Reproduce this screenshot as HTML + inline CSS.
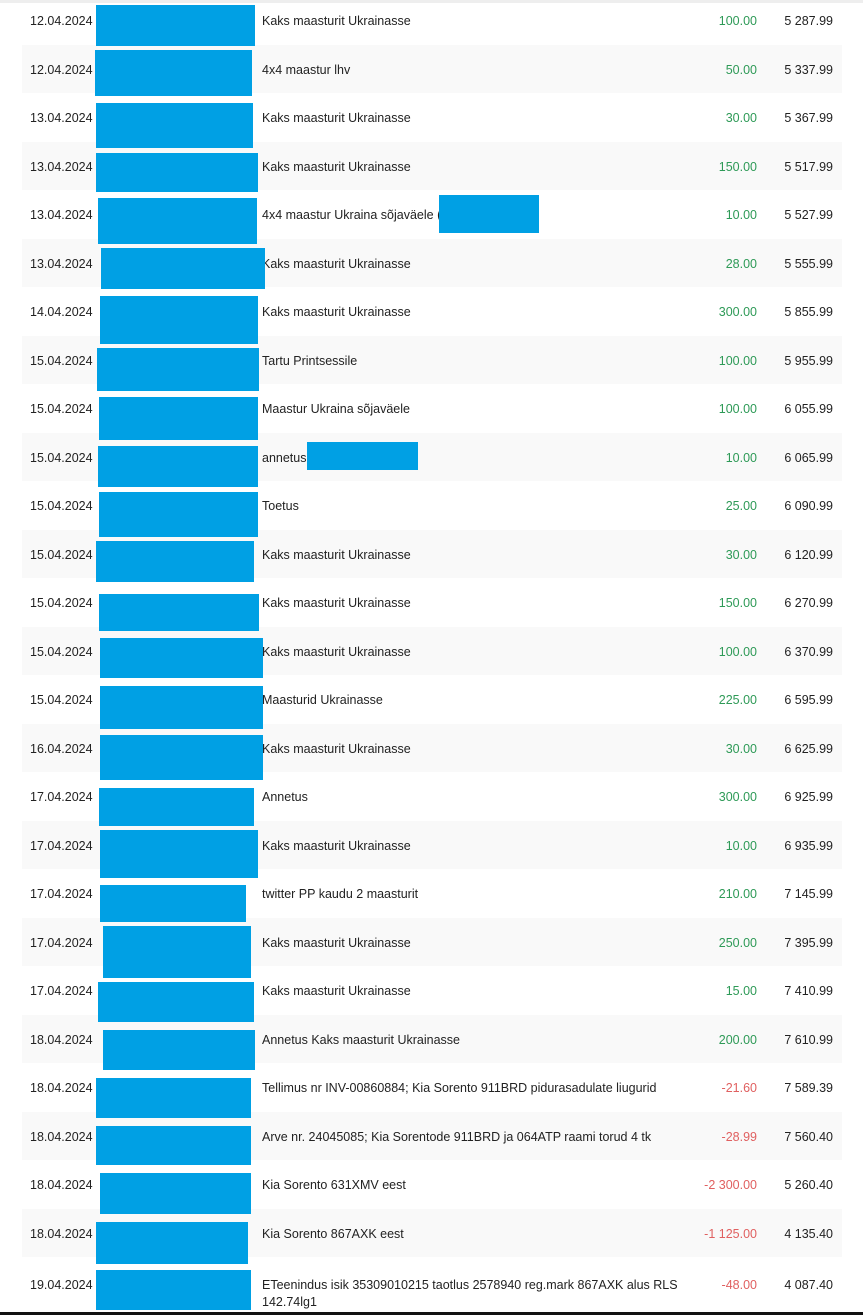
<!DOCTYPE html>
<html><head><meta charset="utf-8"><style>
body{margin:0;width:863px;height:1315px;background:#fff;position:relative;overflow:hidden;font-family:"Liberation Sans",sans-serif;font-size:12.5px;color:#222}
.row{position:absolute;left:22px;width:820px;height:48.5px}
.g{background:#f9f9f9}
.t{position:absolute;white-space:nowrap}
.d{left:8px}.x{left:240px}.a{right:85px;text-align:right}.b{right:9px;text-align:right}
.pos{color:#2e9a57}.neg{color:#e06060}
.blue{position:absolute;background:#00a0e4}
</style></head><body>
<div style="position:absolute;left:0;top:0;width:863px;height:3px;background:#eee"></div>
<div id="rows"></div>
<div style="position:absolute;left:0;top:1312px;width:863px;height:3px;background:#111"></div>
<script>
var R=[
["12.04.2024","Kaks maasturit Ukrainasse","100.00","5 287.99"],
["12.04.2024","4x4 maastur lhv","50.00","5 337.99"],
["13.04.2024","Kaks maasturit Ukrainasse","30.00","5 367.99"],
["13.04.2024","Kaks maasturit Ukrainasse","150.00","5 517.99"],
["13.04.2024","4x4 maastur Ukraina sõjaväele (","10.00","5 527.99"],
["13.04.2024","Kaks maasturit Ukrainasse","28.00","5 555.99"],
["14.04.2024","Kaks maasturit Ukrainasse","300.00","5 855.99"],
["15.04.2024","Tartu Printsessile","100.00","5 955.99"],
["15.04.2024","Maastur Ukraina sõjaväele","100.00","6 055.99"],
["15.04.2024","annetus","10.00","6 065.99"],
["15.04.2024","Toetus","25.00","6 090.99"],
["15.04.2024","Kaks maasturit Ukrainasse","30.00","6 120.99"],
["15.04.2024","Kaks maasturit Ukrainasse","150.00","6 270.99"],
["15.04.2024","Kaks maasturit Ukrainasse","100.00","6 370.99"],
["15.04.2024","Maasturid Ukrainasse","225.00","6 595.99"],
["16.04.2024","Kaks maasturit Ukrainasse","30.00","6 625.99"],
["17.04.2024","Annetus","300.00","6 925.99"],
["17.04.2024","Kaks maasturit Ukrainasse","10.00","6 935.99"],
["17.04.2024","twitter PP kaudu 2 maasturit","210.00","7 145.99"],
["17.04.2024","Kaks maasturit Ukrainasse","250.00","7 395.99"],
["17.04.2024","Kaks maasturit Ukrainasse","15.00","7 410.99"],
["18.04.2024","Annetus Kaks maasturit Ukrainasse","200.00","7 610.99"],
["18.04.2024","Tellimus nr INV-00860884; Kia Sorento 911BRD pidurasadulate liugurid","-21.60","7 589.39"],
["18.04.2024","Arve nr. 24045085; Kia Sorentode 911BRD ja 064ATP raami torud 4 tk","-28.99","7 560.40"],
["18.04.2024","Kia Sorento 631XMV eest","-2 300.00","5 260.40"],
["18.04.2024","Kia Sorento 867AXK eest","-1 125.00","4 135.40"],
["19.04.2024","ETeenindus isik 35309010215 taotlus 2578940 reg.mark 867AXK alus RLS","-48.00","4 087.40"]];
var B=[[96,5,255,46],[95,50,252,96],[96,103,253,148],[96,153,258,192],[98,198,257,244],[101,248,265,289],[100,296,258,344],[97,348,259,391],[99,397,258,440],[98,446,258,487],[99,492,258,537],[96,541,254,582],[99,594,259,631],[100,638,263,678],[100,686,263,729],[100,735,263,780],[99,788,254,826],[100,830,258,878],[100,885,246,922],[103,926,251,978],[98,982,254,1022],[103,1030,255,1070],[96,1078,251,1118],[96,1126,251,1165],[100,1173,251,1214],[96,1222,248,1264],[96,1270,251,1310],[439,195,539,233],[307,442,418,470]];
var h='';
R.forEach(function(r,i){var top=-4+i*48.5;var c=r[2][0]=='-'?'neg':'pos';var ty=i==26?21:18;
h+='<div class="row'+(i%2?' g':'')+'" style="top:'+top+'px"><span class="t d" style="top:'+ty+'px">'+r[0]+'</span><span class="t x" style="top:'+ty+'px">'+r[1]+'</span><span class="t a '+c+'" style="top:'+ty+'px">'+r[2]+'</span><span class="t b" style="top:'+ty+'px">'+r[3]+'</span>'+(i==26?'<span class="t x" style="top:38px">142.74lg1</span>':'')+'</div>';});
B.forEach(function(b){h+='<div class="blue" style="left:'+b[0]+'px;top:'+b[1]+'px;width:'+(b[2]-b[0])+'px;height:'+(b[3]-b[1])+'px"></div>';});
document.getElementById('rows').innerHTML=h;
</script>
</body></html>
